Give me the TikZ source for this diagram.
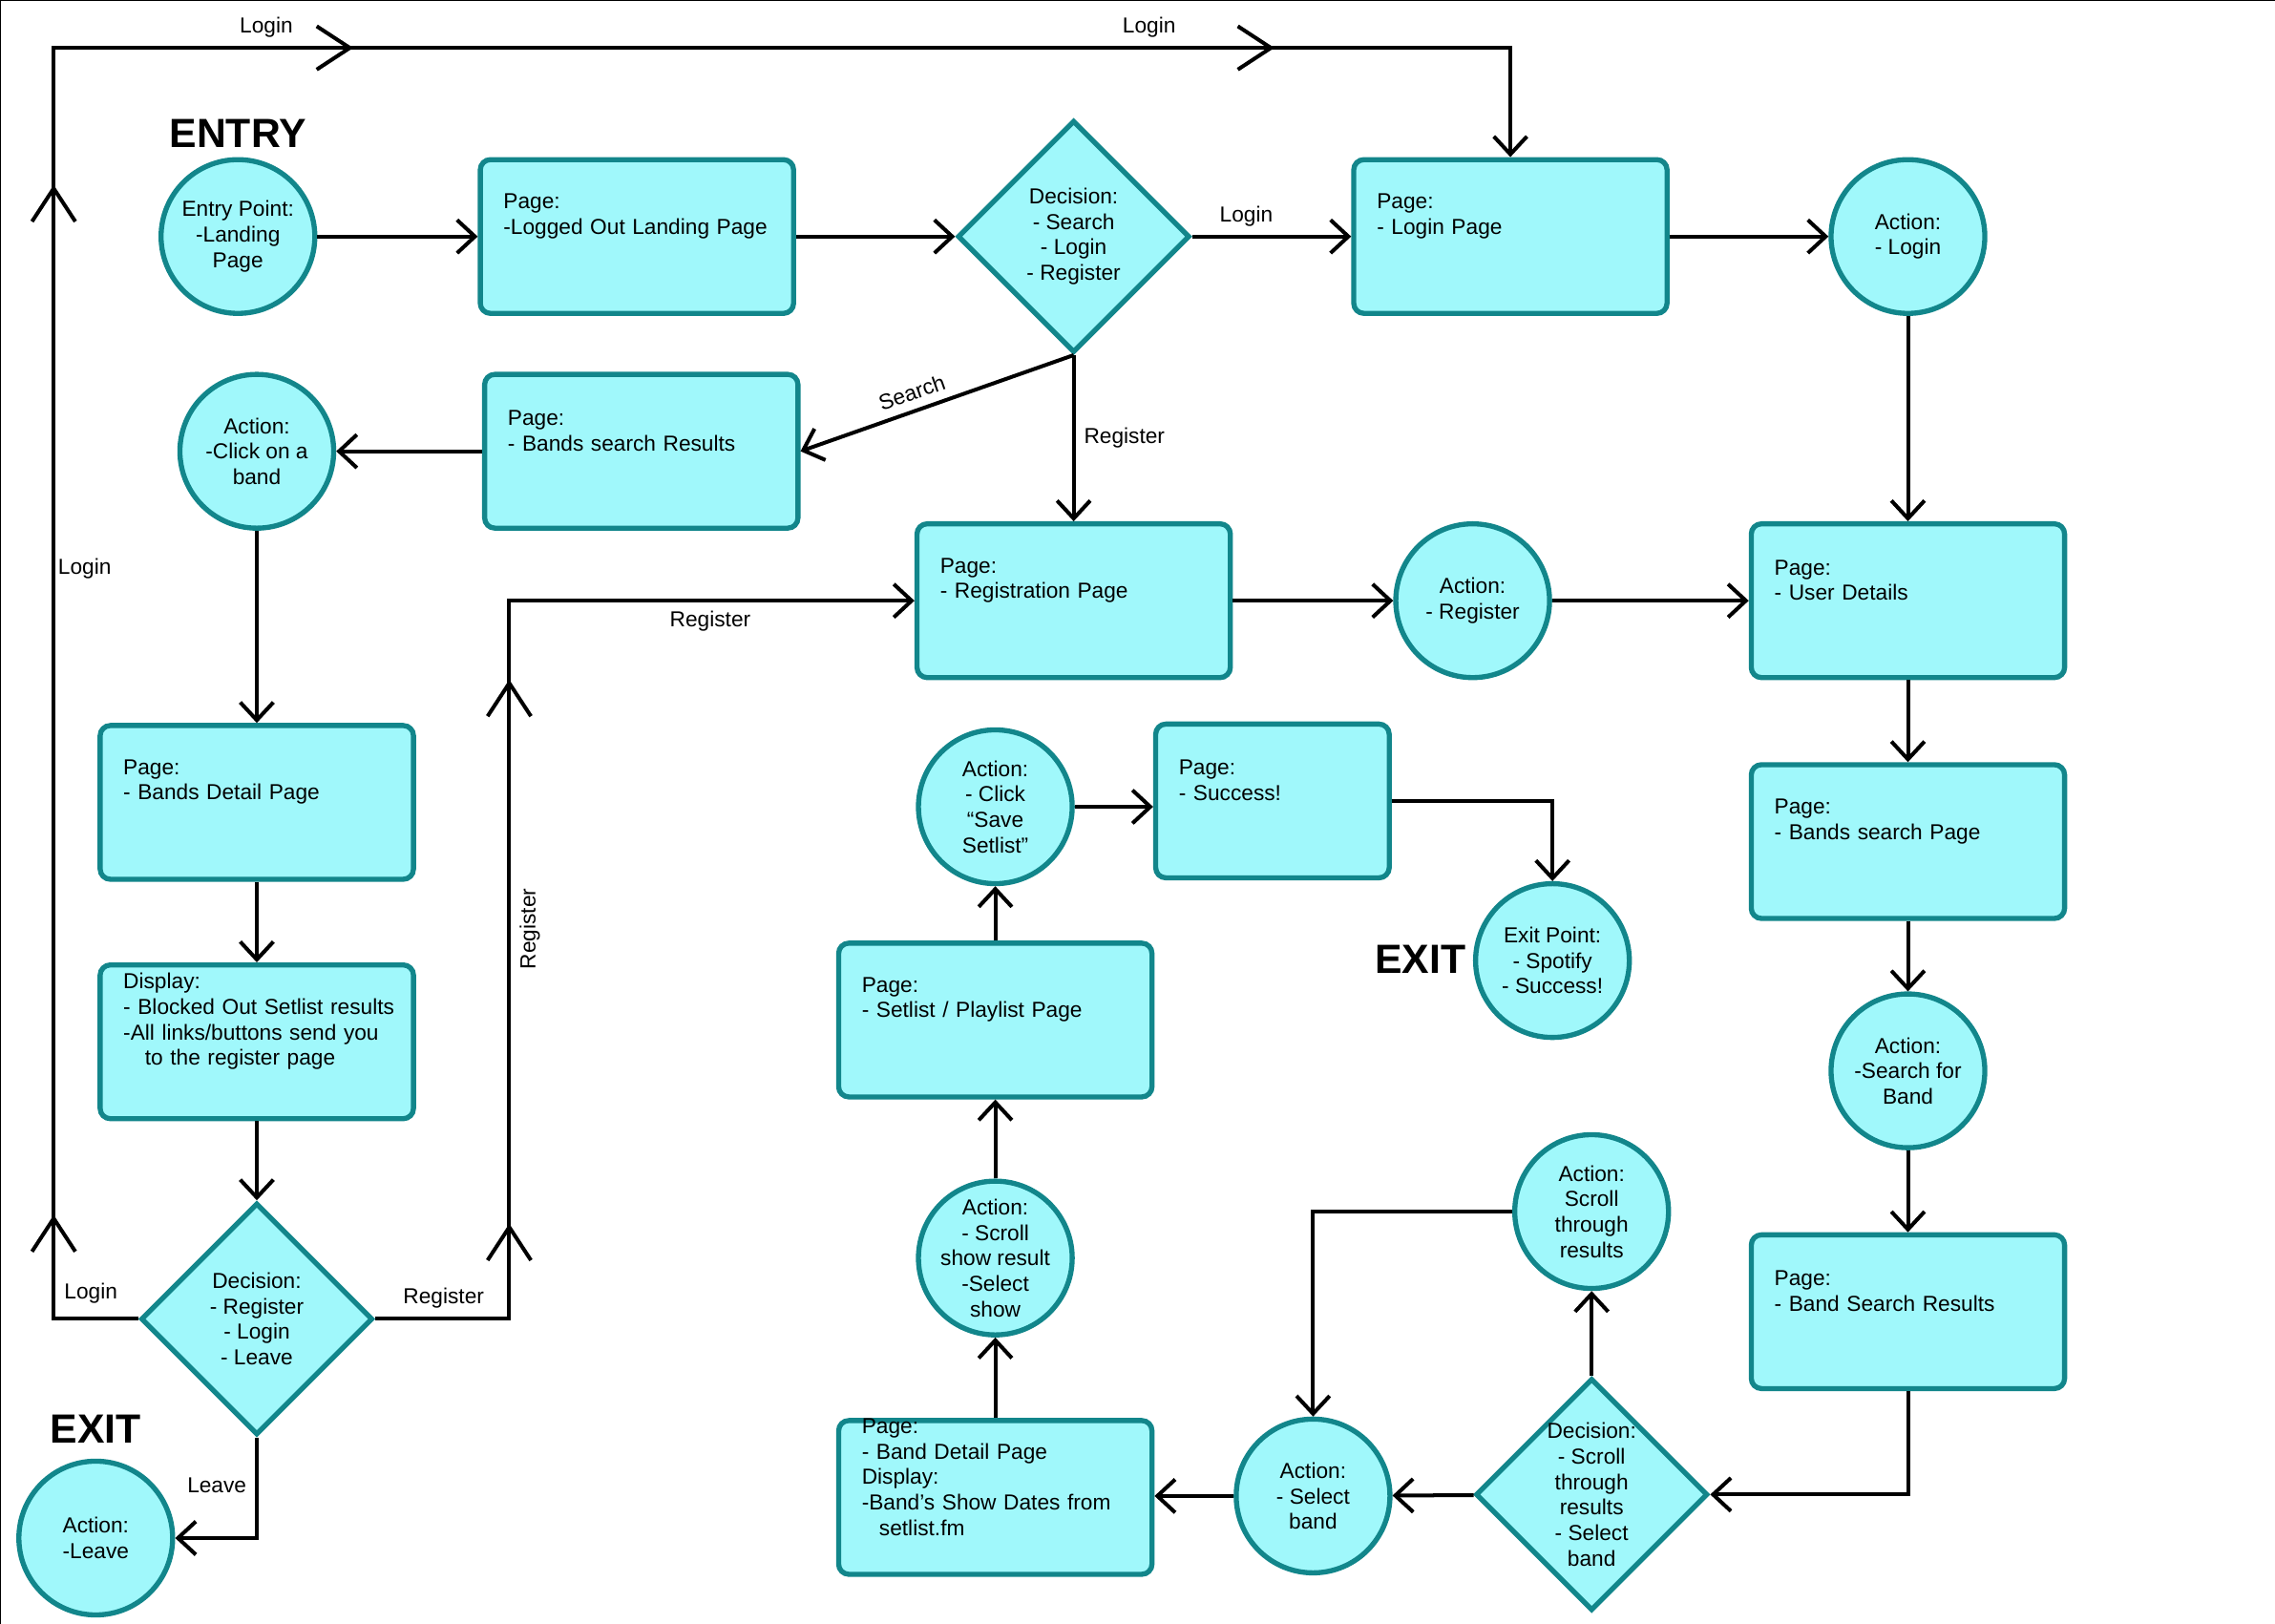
\documentclass[tikz,border=0pt]{standalone}
\usepackage{fontspec}
\setmainfont{Liberation Sans}
\usepackage{tikz}
\usetikzlibrary{arrows.meta,positioning,shapes.geometric,decorations.markings}
\definecolor{cyanfill}{HTML}{A0F8FB}
\definecolor{tealline}{HTML}{12868B}
\tikzset{
  page/.style={draw=tealline, line width=2pt, fill=cyanfill, rounded corners=4pt,
               minimum width=4.32cm, minimum height=2.12cm},
  pagetxt/.style={align=left, text width=4.2cm, inner sep=0pt, xshift=0.26cm, yshift=0.28cm},
  act/.style={draw=tealline, line width=2pt, fill=cyanfill, circle,
              minimum size=2.12cm, inner sep=-6pt, align=center},
  decide/.style={draw=tealline, line width=2pt, fill=cyanfill, diamond,
                 minimum width=3.2cm, minimum height=3.2cm, inner sep=-2pt, align=center},
  bigword/.style={font=\fontsize{16}{18}\selectfont\bfseries},
  flow/.style={line width=1.5pt, ->},
  midbarb/.style={postaction={decorate, decoration={markings,
      mark=at position #1 with {\arrow{Straight Barb[length=13pt,width=17pt]}}}}},
}

\begin{document}
\begin{tikzpicture}[x=0.02cm, y=-0.02cm, font=\fontsize{8.5}{10}\selectfont,
                    >={Straight Barb[length=7pt,width=13pt]}]
    \useasboundingbox (0,0) rectangle (1568,1119);
    \draw[line width=1pt] (0,1119) -- (0,0) -- (1568,0);

    % top row
    \node[bigword] (entryword) at (164,92) {ENTRY};
    \node[act] (entry) at (164,163) {Entry Point:\\-Landing\\Page};
    \node[page, label={[pagetxt]center:{Page:\\-Logged Out Landing Page}}] (landing) at (439,163) {};
    \node[decide] (dec1) at (740,163) {Decision:\\- Search\\- Login\\- Register};
    \node[page, label={[pagetxt]center:{Page:\\- Login Page}}] (login) at (1041,163) {};
    \node[act] (actlogin) at (1315,163) {Action:\\- Login};

    % second row
    \node[act] (actband) at (177,311) {Action:\\-Click on a\\band};
    \node[page, label={[pagetxt]center:{Page:\\- Bands search Results}}] (bandsres) at (442,311) {};
    \node[page, label={[pagetxt]center:{Page:\\- Registration Page}}] (reg) at (740,414) {};
    \node[act] (actreg) at (1015,414) {Action:\\- Register};
    \node[page, label={[pagetxt]center:{Page:\\- User Details}}] (user) at (1315,414) {};

    % left column
    \node[page, label={[pagetxt]center:{Page:\\- Bands Detail Page}}] (bandsdetail) at (177,553) {};
    \node[page, label={[pagetxt]center:{Display:\\- Blocked Out Setlist results\\-All links/buttons send you\\\hspace*{1em}to the register page}}] (blocked) at (177,718) {};
    \node[decide] (dec2) at (177,909) {Decision:\\- Register\\- Login\\- Leave};
    \node[bigword] (exitword) at (66,985) {EXIT};
    \node[act] (actleave) at (66,1060) {Action:\\-Leave};

    % middle column
    \node[act] (actsave) at (686,556) {Action:\\- Click\\“Save\\Setlist”};
    \node[page, minimum width=3.22cm, label={[pagetxt, text width=3.1cm]center:{Page:\\- Success!}}] (success) at (877,552) {};
    \node[bigword] (exitword2) at (979,661) {EXIT};
    \node[act] (exitpt) at (1070,662) {Exit Point:\\- Spotify\\- Success!};
    \node[page, label={[pagetxt]center:{Page:\\- Setlist / Playlist Page}}] (setlist) at (686,703) {};
    \node[act] (actshow) at (686,867) {Action:\\- Scroll\\show result\\-Select\\show};
    \node[page, label={[pagetxt]center:{Page:\\- Band Detail Page\\Display:\\-Band’s Show Dates from\\\hspace*{0.8em}setlist.fm}}] (banddetail) at (686,1032) {};

    % right column
    \node[page, label={[pagetxt]center:{Page:\\- Bands search Page}}] (bandsearch) at (1315,580) {};
    \node[act] (actsearch) at (1315,738) {Action:\\-Search for\\Band};
    \node[page, label={[pagetxt]center:{Page:\\- Band Search Results}}] (bandresults) at (1315,904) {};
    \node[act] (actscroll) at (1097,835) {Action:\\Scroll\\through\\results};
    \node[decide] (dec3) at (1097,1030) {Decision:\\- Scroll\\through\\results\\- Select\\band};
    \node[act] (actselect) at (905,1031) {Action:\\- Select\\band};

    % connectors
    \draw[flow] (entry) -- (landing);
    \draw[flow] (landing) -- (dec1);
    \draw[flow] (dec1) -- node[above, pos=0.34] {Login} (login);
    \draw[flow] (login) -- (actlogin);
    \draw[flow] (actlogin) -- (user);
    \draw[flow] (dec1.south) -- node[above, sloped, pos=0.57] {Search} (bandsres.east);
    \draw[flow] (dec1.south) -- node[right, pos=0.5] {Register} (reg);
    \draw[flow] (bandsres) -- (actband);
    \draw[flow] (actband) -- (bandsdetail);
    \draw[flow] (bandsdetail) -- (blocked);
    \draw[flow] (blocked) -- (dec2);
    \draw[flow] (reg) -- (actreg);
    \draw[flow] (actreg) -- (user);

    \coordinate (lgbottom) at (37,909);
    \coordinate (lgtop) at (37,33);
    \coordinate (lgright) at (1041,33);
    \draw[flow, midbarb=2.6cm, midbarb=16.8cm, midbarb=22.82cm, midbarb=35.52cm]
      (dec2.west) -- node[above=2pt, pos=0.56] {Login} (lgbottom)
      -- node[right, pos=0.59, inner sep=1pt] {Login} (lgtop)
      -- node[above, pos=0.146] {Login} node[above, pos=0.752] {Login} (lgright)
      -- (login.north);

    \coordinate (rgbottom) at (351,909);
    \coordinate (rgtop) at (351,414);
    \draw[flow, midbarb=3.16cm, midbarb=10.66cm]
      (dec2.east) -- node[above, pos=0.51] {Register} (rgbottom)
      -- node[below, sloped, pos=0.543] {Register} (rgtop)
      -- node[below, pos=0.496] {Register} (reg.west);

    \draw[flow] (dec2.south) |- node[left, pos=0.24] {Leave} (actleave.east);

    \draw[flow] (user) -- (bandsearch);
    \draw[flow] (bandsearch) -- (actsearch);
    \draw[flow] (actsearch) -- (bandresults);
    \draw[flow] (bandresults.south) |- (dec3.east);
    \draw[flow] (dec3) -- (actscroll);
    \draw[flow] (actscroll.west) -| (actselect.north);
    \draw[flow] (dec3) -- (actselect);
    \draw[flow] (actselect.west) -- (actselect.west -| banddetail.east);
    \draw[flow] (banddetail) -- (actshow);
    \draw[flow] (actshow) -- (setlist);
    \draw[flow] (setlist) -- (actsave);
    \draw[flow] (actsave.east) -- (actsave.east -| success.west);
    \draw[flow] (success.east) -| (exitpt.north);
\end{tikzpicture}
\end{document}
